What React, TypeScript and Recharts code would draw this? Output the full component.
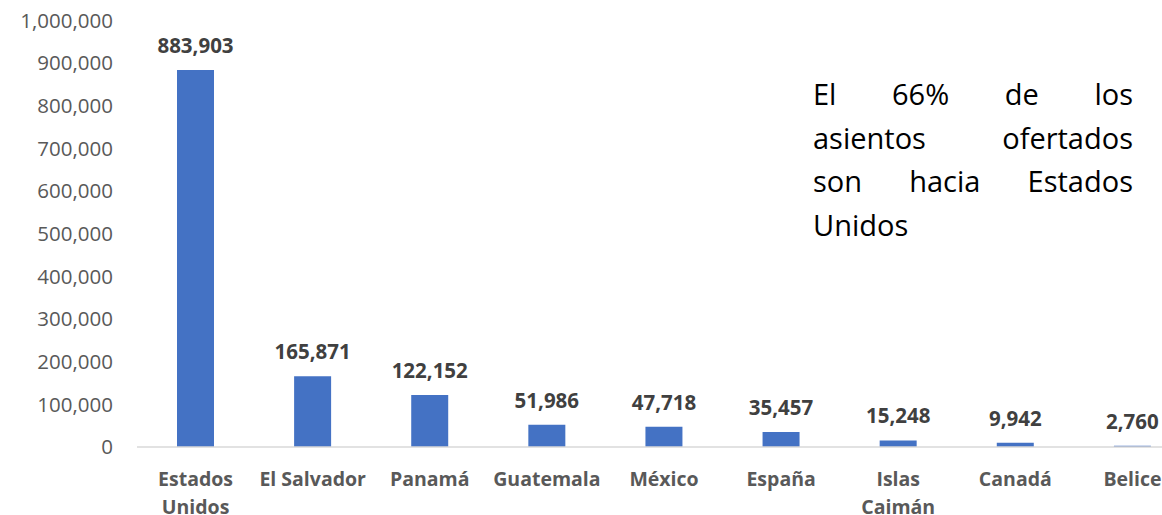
import { BarChart, Bar, XAxis, YAxis, LabelList } from 'recharts';

const countries = [
  'Estados Unidos',
  'El Salvador',
  'Panamá',
  'Guatemala',
  'México',
  'España',
  'Islas Caimán',
  'Canadá',
  'Belice',
];
const seats = [883903, 165871, 122152, 51986, 47718, 35457, 15248, 9942, 2760];
const yTicks = [0, 100000, 200000, 300000, 400000, 500000, 600000, 700000, 800000, 900000, 1000000];
const noteLines = ['El 66% de los', 'asientos ofertados', 'son hacia Estados', 'Unidos'];

const data = countries.map((country, i) => ({ country, seats: seats[i] }));

const fmt = (v: number) => v.toLocaleString('en-US');

const FONT = '"Open Sans", "Noto Sans", sans-serif';

// long names go on two lines, like the original axis
const CategoryTick = (props: any) => {
  const { x, y, payload } = props;
  const name: string = payload.value;
  const lines = name.length > 11 ? name.split(' ') : [name];
  return (
    <text
      x={x}
      y={y}
      textAnchor="middle"
      fill="#595959"
      fontFamily={FONT}
      fontSize={19.5}
      fontWeight={700}
    >
      {lines.map((line, i) => (
        <tspan key={line} x={x} dy={i === 0 ? 37 : 27.5}>
          {line}
        </tspan>
      ))}
    </text>
  );
};

export default function App() {
  return (
    <div style={{ position: 'relative', width: 1162, height: 515, overflow: 'hidden', background: '#fff' }}>
      <style>{'body{margin:0}'}</style>
      <BarChart
        width={1200}
        height={515}
        data={data}
        margin={{ top: 20.5, right: 9, left: 0, bottom: 0 }}
      >
        <XAxis
          dataKey="country"
          interval={0}
          height={68}
          tickLine={false}
          tickSize={0}
          axisLine={{ stroke: '#D9D9D9', strokeWidth: 1.5 }}
          tick={<CategoryTick />}
        />
        <YAxis
          width={137}
          domain={[0, 1000000]}
          ticks={yTicks}
          tickFormatter={fmt}
          axisLine={false}
          tickLine={false}
          tickSize={0}
          tickMargin={24}
          tick={{ fill: '#595959', fontSize: 20.5, fontFamily: FONT }}
        />
        <Bar dataKey="seats" fill="#4472C4" barSize={37} isAnimationActive={false}>
          <LabelList
            dataKey="seats"
            position="top"
            offset={17}
            formatter={(v: any) => fmt(Number(v))}
            style={{ fill: '#404040', fontSize: 20.5, fontWeight: 700, fontFamily: FONT }}
          />
        </Bar>
      </BarChart>
      <div
        style={{
          position: 'absolute',
          left: 813,
          top: 72,
          width: 320,
          fontFamily: FONT,
          fontSize: 29,
          lineHeight: '43.5px',
          color: '#000',
        }}
      >
        {noteLines.map((line, i) => (
          <div
            key={line}
            style={{ textAlign: 'justify', textAlignLast: i === noteLines.length - 1 ? 'left' : 'justify' }}
          >
            {line}
          </div>
        ))}
      </div>
    </div>
  );
}
